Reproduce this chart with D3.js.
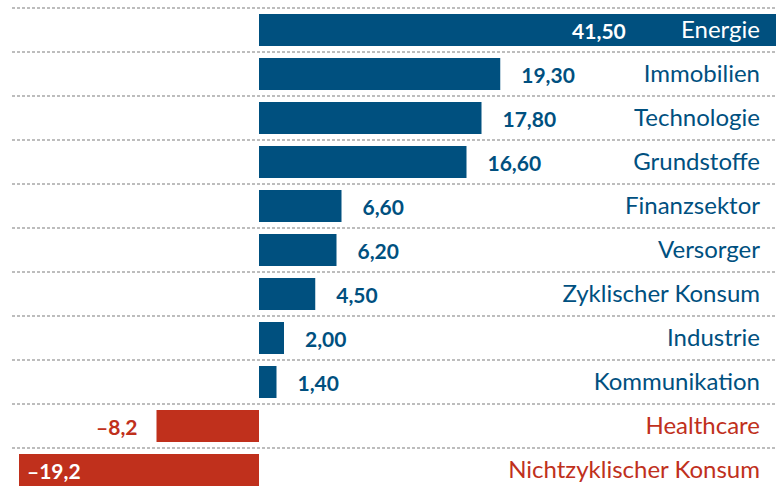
<!DOCTYPE html>
<html>
<head>
<meta charset="utf-8">
<script src="https://cdn.jsdelivr.net/npm/d3@7"></script>
<style>
  body { margin: 0; background: #fff; }
  text { font-family: Lato, "Open Sans", sans-serif; }
</style>
</head>
<body>
<script>
// data
const categories = ["Energie", "Immobilien", "Technologie", "Grundstoffe", "Finanzsektor",
  "Versorger", "Zyklischer Konsum", "Industrie", "Kommunikation", "Healthcare",
  "Nichtzyklischer Konsum"];
const values = [41.5, 19.3, 17.8, 16.6, 6.6, 6.2, 4.5, 2.0, 1.4, -8.2, -19.2];
const valueLabels = ["41,50", "19,30", "17,80", "16,60", "6,60", "6,20", "4,50", "2,00",
  "1,40", "–8,2", "–19,2"];

const width = 776, height = 487;
const blue = "#00507f", red = "#c0301c";

const data = categories.map((c, i) => ({name: c, value: values[i], label: valueLabels[i]}));

const svg = d3.select("body")
  .append("svg")
  .attr("width", width)
  .attr("height", height);

const x = d3.scaleLinear()
  .domain([-20, 42])
  .range([9, 784]);

const y = d3.scaleBand()
  .domain(categories)
  .range([8, 8 + 44 * categories.length]);

// dotted row lines
svg.selectAll(".rowline")
  .data(categories)
  .join("line")
  .attr("x1", 12)
  .attr("x2", width)
  .attr("y1", d => y(d))
  .attr("y2", d => y(d))
  .attr("stroke", "#a8a8a8")
  .attr("stroke-width", 1.5)
  .attr("stroke-dasharray", "3,2");

// bars
svg.selectAll(".bar")
  .data(data)
  .join("rect")
  .attr("x", d => x(Math.min(0, d.value)))
  .attr("y", d => y(d.name) + 6)
  .attr("width", d => Math.abs(x(d.value) - x(0)))
  .attr("height", y.bandwidth() - 12)
  .attr("fill", d => d.value < 0 ? red : blue);

// category labels
svg.selectAll(".cat")
  .data(data)
  .join("text")
  .attr("x", 760)
  .attr("y", d => y(d.name) + 30)
  .attr("text-anchor", "end")
  .style("font-size", "24px")
  .attr("fill", (d, i) => i === 0 ? "#fff" : (d.value < 0 ? red : blue))
  .text(d => d.name);

// value labels
svg.selectAll(".val")
  .data(data)
  .join("text")
  .attr("x", d => {
    if (d.value > 30) return x(d.value) - 152;
    if (d.value < -15) return x(d.value) + 8;
    return d.value < 0 ? x(d.value) - 19 : x(d.value) + 21;
  })
  .attr("y", d => y(d.name) + 31)
  .attr("text-anchor", d => (d.value > 30 || (d.value < 0 && d.value >= -15)) ? "end" : "start")
  .style("font-size", "21px")
  .style("font-weight", "bold")
  .attr("fill", d => (d.value > 30 || d.value < -15) ? "#fff" : (d.value < 0 ? red : blue))
  .text(d => d.label);
</script>
</body>
</html>
